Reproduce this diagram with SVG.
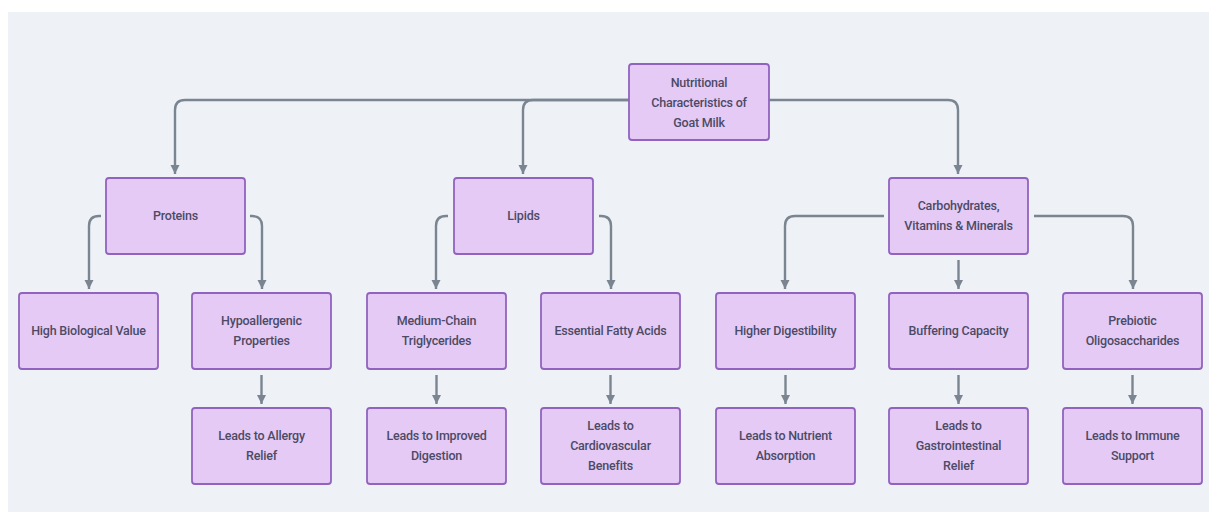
<svg xmlns="http://www.w3.org/2000/svg" width="1209" height="520" viewBox="0 0 1209 520">
<defs>
<marker id="arr" markerUnits="userSpaceOnUse" markerWidth="10" markerHeight="10" viewBox="0 0 10 10" refX="9" refY="5" orient="auto">
<path d="M0,0.5 L9,5 L0,9.5 z" fill="#7a8591"/>
</marker>
<style>
.n rect{fill:#e5caf5;stroke:#9163bf;stroke-width:1.8}
.n text{font-family:Roboto,"Liberation Sans",sans-serif;font-size:12.5px;font-weight:500;fill:#4c4a66;text-anchor:middle;letter-spacing:-0.2px}
.c path{fill:none;stroke:#7a8591;stroke-width:2.4;marker-end:url(#arr)}
</style>
</defs>
<rect x="0" y="0" width="1209" height="520" fill="#ffffff"/>
<rect x="8" y="12" width="1201" height="500" fill="#eef2f6"/>
<g class="c" id="connectors">
<path d="M629,100 H185 Q175,100 175,110 V174"/>
<path d="M629,100 H533 Q523,100 523,110 V174"/>
<path d="M769,100 H948 Q958,100 958,110 V174"/>
<path d="M101,216 H99 Q89,216 89,226 V289"/>
<path d="M250,216 H252 Q262,216 262,226 V289"/>
<path d="M448,216 H446 Q436,216 436,226 V289"/>
<path d="M599,216 H601 Q611,216 611,226 V289"/>
<path d="M884,216 H795 Q785,216 785,226 V289"/>
<path d="M958.5,260 V289"/>
<path d="M1034,216 H1123 Q1133,216 1133,226 V289"/>
<path d="M261.5,375 V404"/>
<path d="M436.5,375 V404"/>
<path d="M610.5,375 V404"/>
<path d="M785.5,375 V404"/>
<path d="M958.5,375 V404"/>
<path d="M1132.5,375 V404"/>
</g>
<g class="n" id="root"><rect x="629" y="64" width="140" height="76" rx="3"/><text x="699" y="87">Nutritional</text><text x="699" y="107">Characteristics of</text><text x="699" y="127">Goat Milk</text></g>
<g class="n" id="proteins"><rect x="106" y="178" width="139" height="76" rx="3"/><text x="175.5" y="220">Proteins</text></g>
<g class="n" id="lipids"><rect x="454" y="178" width="139" height="76" rx="3"/><text x="523.5" y="220">Lipids</text></g>
<g class="n" id="carbs"><rect x="889" y="178" width="139" height="76" rx="3"/><text x="958.5" y="210">Carbohydrates,</text><text x="958.5" y="230">Vitamins &amp; Minerals</text></g>
<g class="n" id="highbio"><rect x="19" y="293" width="139" height="76" rx="3"/><text x="88.5" y="335">High Biological Value</text></g>
<g class="n" id="hypo"><rect x="192" y="293" width="139" height="76" rx="3"/><text x="261.5" y="325">Hypoallergenic</text><text x="261.5" y="345">Properties</text></g>
<g class="n" id="mct"><rect x="367" y="293" width="139" height="76" rx="3"/><text x="436.5" y="325">Medium-Chain</text><text x="436.5" y="345">Triglycerides</text></g>
<g class="n" id="efa"><rect x="541" y="293" width="139" height="76" rx="3"/><text x="610.5" y="335">Essential Fatty Acids</text></g>
<g class="n" id="digest"><rect x="716" y="293" width="139" height="76" rx="3"/><text x="785.5" y="335">Higher Digestibility</text></g>
<g class="n" id="buffer"><rect x="889" y="293" width="139" height="76" rx="3"/><text x="958.5" y="335">Buffering Capacity</text></g>
<g class="n" id="prebiotic"><rect x="1063" y="293" width="139" height="76" rx="3"/><text x="1132.5" y="325">Prebiotic</text><text x="1132.5" y="345">Oligosaccharides</text></g>
<g class="n" id="allergy"><rect x="192" y="408" width="139" height="76" rx="3"/><text x="261.5" y="440">Leads to Allergy</text><text x="261.5" y="460">Relief</text></g>
<g class="n" id="improved"><rect x="367" y="408" width="139" height="76" rx="3"/><text x="436.5" y="440">Leads to Improved</text><text x="436.5" y="460">Digestion</text></g>
<g class="n" id="cardio"><rect x="541" y="408" width="139" height="76" rx="3"/><text x="610.5" y="430">Leads to</text><text x="610.5" y="450">Cardiovascular</text><text x="610.5" y="470">Benefits</text></g>
<g class="n" id="nutrient"><rect x="716" y="408" width="139" height="76" rx="3"/><text x="785.5" y="440">Leads to Nutrient</text><text x="785.5" y="460">Absorption</text></g>
<g class="n" id="gi"><rect x="889" y="408" width="139" height="76" rx="3"/><text x="958.5" y="430">Leads to</text><text x="958.5" y="450">Gastrointestinal</text><text x="958.5" y="470">Relief</text></g>
<g class="n" id="immune"><rect x="1063" y="408" width="139" height="76" rx="3"/><text x="1132.5" y="440">Leads to Immune</text><text x="1132.5" y="460">Support</text></g>
</svg>
